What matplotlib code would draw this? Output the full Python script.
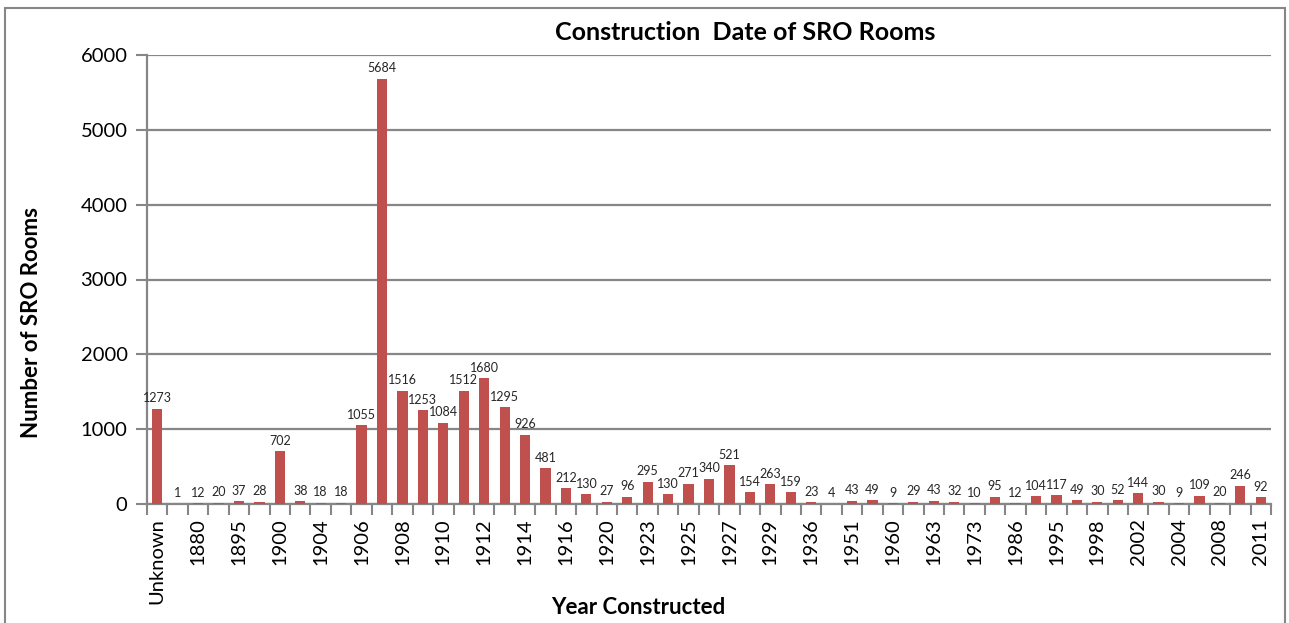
import matplotlib
matplotlib.use("Agg")
import matplotlib.pyplot as plt
from matplotlib.patches import Rectangle
import numpy as np

categories = ["Unknown", "1875", "1880", "1890", "1895", "1898", "1900", "1902", "1904", "1905",
              "1906", "1907", "1908", "1909", "1910", "1911", "1912", "1913", "1914", "1915",
              "1916", "1918", "1920", "1922", "1923", "1924", "1925", "1926", "1927", "1928",
              "1929", "1930", "1936", "1940", "1951", "1955", "1960", "1962", "1963", "1970",
              "1973", "1980", "1986", "1990", "1995", "1997", "1998", "2000", "2002", "2003",
              "2004", "2006", "2008", "2010", "2011"]
rooms = [1273, 1, 12, 20, 37, 28, 702, 38, 18, 18,
         1055, 5684, 1516, 1253, 1084, 1512, 1680, 1295, 926, 481,
         212, 130, 27, 96, 295, 130, 271, 340, 521, 154,
         263, 159, 23, 4, 43, 49, 9, 29, 43, 32,
         10, 95, 12, 104, 117, 49, 30, 52, 144, 30,
         9, 109, 20, 246, 92]
y_ticks = [0, 1000, 2000, 3000, 4000, 5000, 6000]

plt.rcParams['font.family'] = ['Lato', 'DejaVu Sans']
W, H = 1289, 623
fig = plt.figure(figsize=(W / 100, H / 100), dpi=100)
ax = fig.add_axes([147 / W, 1 - 504 / H, (1271 - 147) / W, (504 - 55) / H])

grey = "#868686"
x = np.arange(len(categories))
ax.bar(x, rooms, width=0.5, color="#C0504D", zorder=3)
for xi, v in zip(x, rooms):
    ax.text(xi, v + 60, str(v), ha="center", va="bottom", fontsize=9, color="#262626", zorder=4)

ax.set_xlim(-0.5, len(categories) - 0.5)
ax.set_ylim(0, 6000)
ax.set_yticks(y_ticks)
ax.set_yticklabels([str(t) for t in y_ticks], fontsize=14.5)
ax.yaxis.grid(True, color=grey, linewidth=1.6, zorder=0)
ax.set_axisbelow(True)

ax.set_xticks(x[::2])
ax.set_xticklabels(categories[::2], rotation=90, fontsize=14.5, va="top")
ax.tick_params(axis="x", length=0, pad=10)
ax.set_xticks(np.arange(-0.5, len(categories)), minor=True)
ax.tick_params(axis="x", which="minor", length=8, color=grey, width=1.5)
ax.tick_params(axis="y", length=8, color=grey, width=1.5, pad=6)

for s in ["top", "right"]:
    ax.spines[s].set_visible(False)
for s in ["left", "bottom"]:
    ax.spines[s].set_color(grey)
    ax.spines[s].set_linewidth(1.6)

fig.text(32 / W, 1 - 322 / H, "Number of SRO Rooms", ha="center", va="center",
         rotation=90, fontsize=16, fontweight="bold")
fig.text(638 / W, 1 - 607 / H, "Year Constructed", ha="center", va="center",
         fontsize=16, fontweight="bold")
fig.text(745 / W, 1 - 32 / H, "Construction  Date of SRO Rooms", ha="center", va="center",
         fontsize=18, fontweight="bold")

fig.patches.append(Rectangle((5 / W, -0.05), (1285 - 5) / W, 1 - 8 / H + 0.05,
                             transform=fig.transFigure, fill=False, edgecolor=grey,
                             linewidth=1.5))

fig.savefig("out.png", dpi=100)
